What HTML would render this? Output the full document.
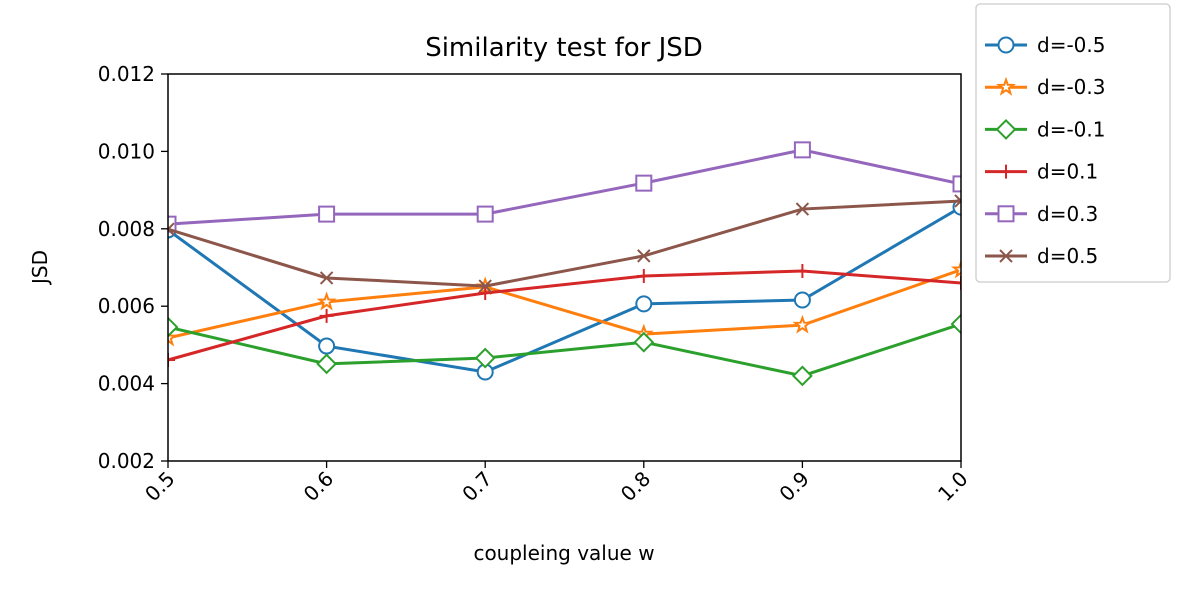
<!DOCTYPE html>
<html><head><meta charset="utf-8"><style>
body{margin:0;background:#fff;}
svg text{font-family:"DejaVu Sans","Liberation Sans",sans-serif;fill:#000;}
</style></head><body>
<svg id="chart" width="1200" height="600" xmlns="http://www.w3.org/2000/svg">
<defs><clipPath id="clip"><rect x="168" y="74" width="793" height="387"/></clipPath></defs>
<text x="564" y="56" font-size="26" text-anchor="middle">Similarity test for JSD</text>
<g id="series" clip-path="url(#clip)"></g>
<rect x="168" y="74" width="793" height="387" fill="none" stroke="#000" stroke-width="1.5"/>
<g id="axes"></g>
<text x="564" y="560" font-size="20" text-anchor="middle">coupleing value w</text>
<text transform="translate(47,267) rotate(-90)" font-size="20" text-anchor="middle">JSD</text>
<g id="legend"></g>
</svg>
<script>
const categories=[0.5,0.6,0.7,0.8,0.9,1.0];
const xTickLabels=["0.5","0.6","0.7","0.8","0.9","1.0"];
const yTicks=[0.002,0.004,0.006,0.008,0.010,0.012];
const yTickLabels=["0.002","0.004","0.006","0.008","0.010","0.012"];
const seriesNames=["d=-0.5","d=-0.3","d=-0.1","d=0.1","d=0.3","d=0.5"];
const dm05=[0.00797,0.00497,0.0043,0.00606,0.00616,0.00856];
const dm03=[0.00518,0.00611,0.0065,0.00528,0.00551,0.00694];
const dm01=[0.00546,0.00451,0.00466,0.00507,0.0042,0.00554];
const dp01=[0.00461,0.00575,0.00634,0.00678,0.00691,0.0066];
const dp03=[0.00812,0.00838,0.00838,0.00918,0.01004,0.00916];
const dp05=[0.00799,0.00673,0.00652,0.0073,0.00851,0.00872];
const allSeries=[dm05,dm03,dm01,dp01,dp03,dp05];
const colors=["#1f77b4","#ff7f0e","#2ca02c","#d62728","#9467bd","#8c564b"];
const markers=["o","star","D","+","s","x"];
const NS="http://www.w3.org/2000/svg";
const X0=168,X1=961,Y0=461,Y1=74;
const xs=v=>X0+(v-0.5)/0.5*(X1-X0);
const ys=v=>Y0-(v-0.002)/0.010*(Y0-Y1);
function mk(tag,attrs,parent){const e=document.createElementNS(NS,tag);for(const k in attrs)e.setAttribute(k,attrs[k]);parent.appendChild(e);return e;}
const axes=document.getElementById('axes');
categories.forEach((c,i)=>{
 const x=xs(c);
 const t=mk('line',{x1:x,x2:x,y1:461,y2:468,stroke:'#000','stroke-width':1.3},axes);
 
 
 const l=mk('text',{'font-size':20,'text-anchor':'end',transform:`translate(${x+8},${480}) rotate(-45)`},axes);
 l.textContent=xTickLabels[i];
 
 
});
yTicks.forEach((v,i)=>{
 const y=ys(v);
 const t=mk('line',{x1:161,x2:168,y1:y,y2:y,stroke:'#000','stroke-width':1.3},axes);
 
 
 const l=mk('text',{x:155,y:y+7,'font-size':20,'text-anchor':'end'},axes);
 l.textContent=yTickLabels[i];
 
 
});
function drawMarker(type,x,y,color,parent){
 let e;
 if(type==='o')e=mk('circle',{cx:x,cy:y,r:7.5,fill:'#fff',stroke:color,'stroke-width':2},parent);
 else if(type==='s')e=mk('rect',{x:x-7.5,y:y-7.5,width:15,height:15,fill:'#fff',stroke:color,'stroke-width':2},parent);
 else if(type==='D')e=mk('polygon',{points:`${x},${y-9} ${x+9},${y} ${x},${y+9} ${x-9},${y}`,fill:'#fff',stroke:color,'stroke-width':2},parent);
 else if(type==='+')e=mk('path',{d:`M${x-7},${y}H${x+7}M${x},${y-7}V${y+7}`,stroke:color,'stroke-width':2},parent);
 else if(type==='x')e=mk('path',{d:`M${x-6},${y-6}L${x+6},${y+6}M${x-6},${y+6}L${x+6},${y-6}`,stroke:color,'stroke-width':2},parent);
 else{let p=[];for(let k=0;k<10;k++){const r=k%2?3:7.5,a=-Math.PI/2+k*Math.PI/5;p.push((x+r*Math.cos(a)).toFixed(1)+','+(y+r*Math.sin(a)).toFixed(1));}
  e=mk('polygon',{points:p.join(' '),fill:'#fff',stroke:color,'stroke-width':2},parent);}
 return e;
}
const sg=document.getElementById('series');
allSeries.forEach((data,si)=>{
 const g=mk('g',{},sg);
 
 
 const pts=data.map((v,i)=>xs(categories[i])+','+ys(v)).join(' ');
 const pl=mk('polyline',{points:pts,fill:'none',stroke:colors[si],'stroke-width':3},g);
 
 
 data.forEach((v,i)=>{
  const m=drawMarker(markers[si],xs(categories[i]),ys(v),colors[si],g);
  
  
 });
});
const lg=document.getElementById('legend');
const box=mk('rect',{x:976,y:4,width:194,height:278,rx:4,fill:'#fff',stroke:'#ccc','stroke-width':1.3},lg);


seriesNames.forEach((n,i)=>{
 const y=45+i*42.2;
 const g=mk('g',{},lg);
 
 
 mk('line',{x1:985,x2:1027,y1:y,y2:y,stroke:colors[i],'stroke-width':3},g);
 drawMarker(markers[i],1006,y,colors[i],g);
 const t=mk('text',{x:1037,y:y+7,'font-size':20},g);
 t.textContent=n;
});
</script>
</body></html>
